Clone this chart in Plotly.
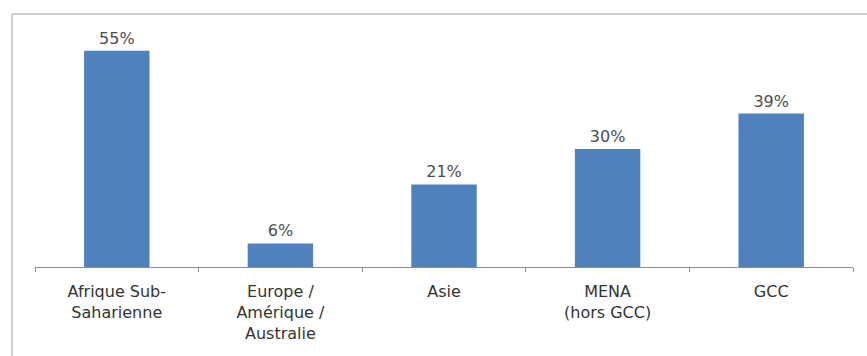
import plotly.graph_objects as go

# Part de chaque région (en %)
regions = [
    "Afrique Sub-<br>Saharienne",
    "Europe /<br>Amérique /<br>Australie",
    "Asie",
    "MENA<br>(hors GCC)",
    "GCC",
]
valeurs = [55, 6, 21, 30, 39]

BAR_COLOR = "#4F81BD"
FONT = "DejaVu Sans"

fig = go.Figure(
    go.Bar(
        x=regions,
        y=valeurs,
        marker=dict(color=BAR_COLOR, line=dict(width=0)),
        text=[f"{v}%" for v in valeurs],
        textposition="outside",
        textfont=dict(family=FONT, size=16, color="#4d4d4d"),
        cliponaxis=False,
        width=0.4,
    )
)

fig.update_layout(
    width=867,
    height=356,
    margin=dict(l=35, r=14, t=31, b=89),
    paper_bgcolor="white",
    plot_bgcolor="white",
    showlegend=False,
    font=dict(family=FONT, size=16, color="#333333"),
    xaxis=dict(
        showline=True,
        linecolor="#8c8c8c",
        linewidth=1,
        ticks="outside",
        tickson="boundaries",
        ticklen=4,
        tickcolor="#8c8c8c",
        tickfont=dict(family=FONT, size=16, color="#333333"),
        ticklabelstandoff=10,
        showgrid=False,
        fixedrange=True,
    ),
    yaxis=dict(
        range=[0, 60],
        visible=False,
        showgrid=False,
        zeroline=False,
        fixedrange=True,
    ),
    shapes=[
        # cadre du graphique (haut et gauche)
        dict(type="line", xref="paper", yref="paper",
             x0=-0.0281, x1=1.05, y0=1.072, y1=1.072,
             line=dict(color="#cfcfcf", width=2)),
        dict(type="line", xref="paper", yref="paper",
             x0=-0.0281, x1=-0.0281, y0=1.072, y1=-0.5,
             line=dict(color="#cfcfcf", width=2)),
    ],
)

fig.write_html("out.html")
